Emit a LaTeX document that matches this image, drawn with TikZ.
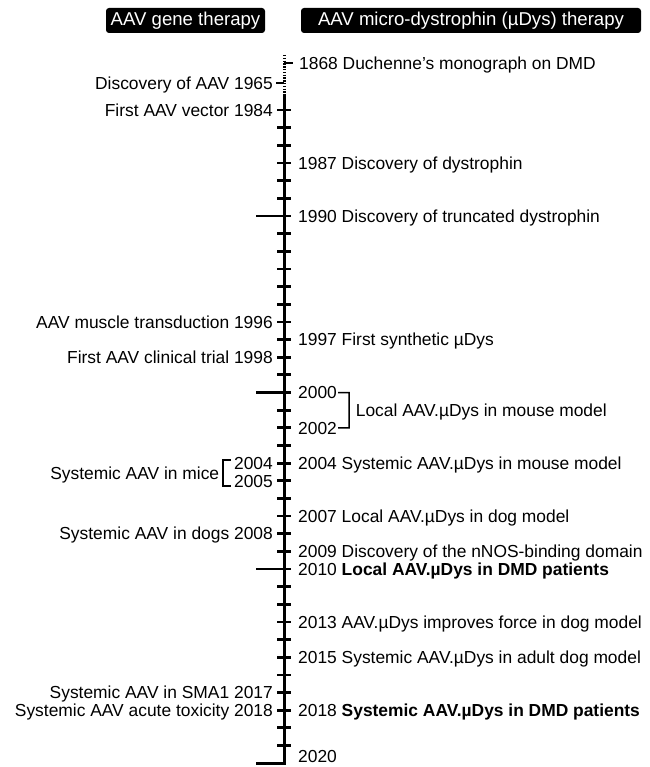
\documentclass[tikz,border=0pt]{standalone}
\usepackage{fontspec}
\setmainfont{Liberation Sans}
\usetikzlibrary{positioning}
\tikzset{
	every node/.style={
		font=\fontsize{17.4}{20}\selectfont,
		inner sep=0pt},
	rlab/.style={anchor=west, text height=12.5pt, text depth=0pt},
	llab/.style={anchor=east, text height=12.5pt, text depth=0pt},
	timeline/.style={line width=3pt, line join=miter},
	yeartick/.style={line width=2.8pt},
	bracket/.style={line width=1.5pt},
	header/.style={
		fill=black, text=white,
		rounded corners=3pt,
		minimum height=25pt,
		font=\fontsize{18.6}{20}\selectfont}
}

\begin{document}
\begin{tikzpicture}[x=1pt,y=-1pt]
	\useasboundingbox (0,0) rectangle (649,767);
	% headers
	\node[header, minimum width=159pt] (hgene) at (185.5,20.5) {AAV gene therapy};
	\node[header, minimum width=340pt] (hdys) at (471,20.5) {AAV micro-dystrophin (µDys) therapy};
	% axis
	\coordinate (top) at (284,55);
	\coordinate (mid) at (284,95);
	\coordinate (a1868) at (284,63);
	\coordinate (a1965) at (284,83);
	\foreach \yr in {1984,...,2021}
		\coordinate (a\yr) at (284,{392.5+(\yr-2000)*17.65});
	\draw[timeline, dash pattern=on 1.5pt off 1.3pt] (top) -- (mid);
	\draw[timeline] (mid) -- (a2021) -- ++(-28,0);
	\foreach \yr in {1984,...,2020}
		\draw[yeartick] (a\yr) ++(-7,0) -- ++(14,0);
	\foreach \yr in {1990,2000,2010}
		\draw[yeartick] (a\yr) ++(-28,0) -- ++(35,0);
	\draw[yeartick] (a1868) -- ++(9,0);
	\draw[yeartick] (a1965) -- ++(-8,0);
	% AAV gene therapy
	\node[llab] (l1965) at ([xshift=-11pt]a1965) {Discovery of AAV 1965};
	\node[llab] (l1984) at ([xshift=-11pt]a1984) {First AAV vector 1984};
	\node[llab] (l1996) at ([xshift=-11pt]a1996) {AAV muscle transduction 1996};
	\node[llab] (l1998) at ([xshift=-11pt]a1998) {First AAV clinical trial 1998};
	\node[llab] (l2004) at ([xshift=-11pt]a2004) {2004};
	\node[llab] (l2005) at ([xshift=-11pt]a2005) {2005};
	\draw[bracket] ([shift={(-3,-3)}]l2004.west) -- ++(-8,0)
		-- node[llab, xshift=-3pt] (lmice) {Systemic AAV in mice} ++(0,26) -- ++(8,0);
	\node[llab] (l2008) at ([xshift=-11pt]a2008) {Systemic AAV in dogs 2008};
	\node[llab] (l2017) at ([xshift=-11pt]a2017) {Systemic AAV in SMA1 2017};
	\node[llab] (l2018) at ([xshift=-11pt]a2018) {Systemic AAV acute toxicity 2018};
	% AAV micro-dystrophin therapy
	\node[rlab] (r1868) at ([xshift=15pt]a1868) {1868 Duchenne’s monograph on DMD};
	\node[rlab] (r1987) at ([xshift=14pt]a1987) {1987 Discovery of dystrophin};
	\node[rlab] (r1990) at ([xshift=14pt]a1990) {1990 Discovery of truncated dystrophin};
	\node[rlab] (r1997) at ([xshift=14pt]a1997) {1997 First synthetic µDys};
	\node[rlab] (r2000) at ([xshift=14pt]a2000) {2000};
	\node[rlab] (r2002) at ([xshift=14pt]a2002) {2002};
	\draw[bracket] ([xshift=1pt]r2000.east) -- ++(11,0)
		-- node[rlab, xshift=6pt] (rmouse) {Local AAV.µDys in mouse model} ++(0,35.3) -- ([xshift=1pt]r2002.east);
	\node[rlab] (r2004) at ([xshift=14pt]a2004) {2004 Systemic AAV.µDys in mouse model};
	\node[rlab] (r2007) at ([xshift=14pt]a2007) {2007 Local AAV.µDys in dog model};
	\node[rlab] (r2009) at ([xshift=14pt]a2009) {2009 Discovery of the nNOS-binding domain};
	\node[rlab] (r2010) at ([xshift=14pt]a2010) {2010 \textbf{Local AAV.µDys in DMD patients}};
	\node[rlab] (r2013) at ([xshift=14pt]a2013) {2013 AAV.µDys improves force in dog model};
	\node[rlab] (r2015) at ([xshift=14pt]a2015) {2015 Systemic AAV.µDys in adult dog model};
	\node[rlab] (r2018) at ([xshift=14pt]a2018) {2018 \textbf{Systemic AAV.µDys in DMD patients}};
	\node[rlab] (r2020) at ([shift={(14,-6.5)}]a2021) {2020};
\end{tikzpicture}
\end{document}
